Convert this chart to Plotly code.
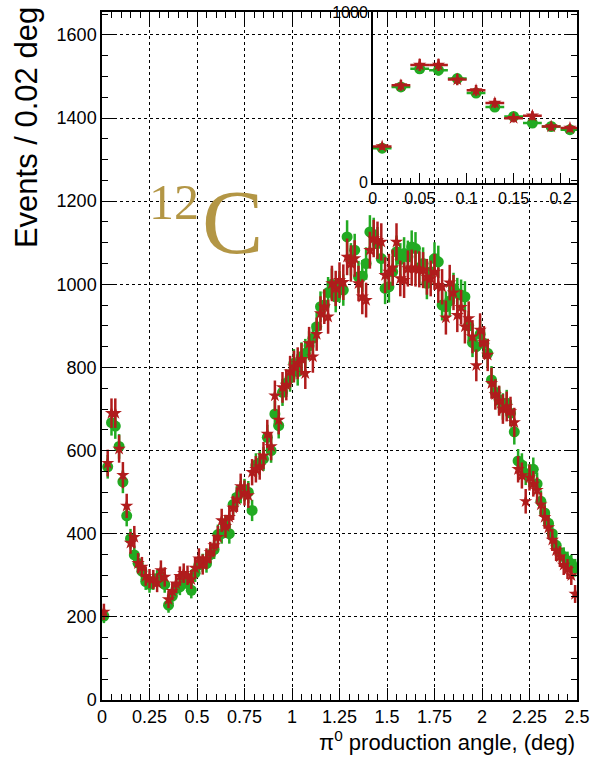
import numpy as np
import plotly.graph_objects as go

# Histogram binning: 0.02 deg bins from 0 to 2.5 deg
bin_width = 0.02
n_bins = 125
angle = [round(bin_width * (i + 0.5), 2) for i in range(n_bins)]

# Events per bin, green circles
counts_circle = [
    202, 561, 667, 659, 610, 525, 443, 388, 349, 329,
    310, 285, 278, 285, 292, 298, 278, 228, 250, 268,
    272, 290, 280, 264, 305, 325, 330, 328, 350, 362,
    398, 400, 420, 400, 470, 488, 500, 505, 500, 456,
    565, 570, 580, 632, 600, 688, 660, 740, 762, 775,
    810, 790, 826, 834, 852, 870, 898, 946, 950, 980,
    1000, 970, 994, 986, 1114, 1060, 1082, 1018, 1020, 1050,
    1126, 1120, 1098, 1062, 990, 994, 1030, 1078, 1060, 1074,
    1066, 1090, 1086, 1040, 1050, 1002, 1030, 1062, 1054, 950,
    946, 960, 990, 978, 974, 970, 900, 860, 850, 880,
    858, 834, 770, 740, 722, 706, 714, 690, 645, 575,
    565, 545, 540, 555, 520, 478, 450, 425, 400, 372,
    355, 345, 335, 328, 318,
]

# Events per bin, red stars
counts_star = [
    212, 570, 690, 690, 604, 541, 467, 378, 392, 329,
    320, 298, 292, 290, 282, 312, 296, 242, 262, 280,
    298, 305, 300, 290, 318, 340, 326, 340, 355, 372,
    392, 432, 418, 440, 462, 482, 514, 498, 492, 548,
    555, 562, 588, 640, 610, 732, 674, 752, 758, 790,
    802, 810, 820, 786, 858, 826, 880, 930, 946, 922,
    1002, 990, 1010, 1005, 1066, 1050, 1062, 1002, 970, 962,
    1082, 1110, 1106, 1102, 1022, 1030, 1040, 1102, 1014, 1010,
    1038, 1040, 1038, 1036, 1034, 1018, 1014, 1030, 998, 994,
    920, 1004, 980, 926, 945, 898, 918, 874, 805, 890,
    860, 830, 762, 735, 720, 700, 706, 694, 668, 555,
    540, 478, 535, 520, 505, 470, 440, 415, 385, 360,
    345, 325, 315, 300, 255,
]

# Zoomed view covers the first bins
n_zoom = 11

GREEN = "#22aa22"
RED = "#b01c1c"
FONT = "Liberation Sans"

x = np.array(angle)
yc = np.array(counts_circle, dtype=float)
ys = np.array(counts_star, dtype=float)
err_c = 1.2 * np.sqrt(yc)
err_s = 1.35 * np.sqrt(ys)


def series(xv, yv, ev, color, symbol, size, xa, ya):
    return go.Scatter(
        x=xv, y=yv, mode="markers", xaxis=xa, yaxis=ya,
        marker=dict(color=color, symbol=symbol, size=size, line=dict(width=0)),
        error_y=dict(type="data", array=ev, color=color, thickness=2.5, width=0),
        error_x=dict(type="constant", value=bin_width / 2, color=color,
                     thickness=2.5, width=0),
        hoverinfo="skip",
    )


fig = go.Figure()
fig.add_trace(series(x, yc, err_c, GREEN, "circle", 11, "x", "y"))
fig.add_trace(series(x, ys, err_s, RED, "star", 10, "x", "y"))
fig.add_trace(series(x[:n_zoom], yc[:n_zoom], err_c[:n_zoom], GREEN, "circle", 11, "x2", "y2"))
fig.add_trace(series(x[:n_zoom], ys[:n_zoom], err_s[:n_zoom], RED, "star", 10, "x2", "y2"))

main_x_ticks = [0, 0.25, 0.5, 0.75, 1, 1.25, 1.5, 1.75, 2, 2.25, 2.5]
main_x_text = ["0", "0.25", "0.5", "0.75", "1", "1.25", "1.5", "1.75", "2", "2.25", "2.5"]
main_y_ticks = [0, 200, 400, 600, 800, 1000, 1200, 1400, 1600]
zoom_x_ticks = [0, 0.05, 0.1, 0.15, 0.2]
zoom_x_text = ["0", "0.05", "0.1", "0.15", "0.2"]

axis_common = dict(
    showline=True, linecolor="black", linewidth=1.5, zeroline=False,
    ticks="inside", tickcolor="black", tickwidth=1.2, automargin=False,
)

fig.update_layout(
    width=593, height=765,
    margin=dict(l=102, r=16, t=12, b=65),
    paper_bgcolor="white", plot_bgcolor="rgba(0,0,0,0)",
    showlegend=False,
    xaxis=dict(
        **axis_common, domain=[0, 1], range=[0, 2.5], mirror="ticks",
        tickvals=main_x_ticks, ticktext=main_x_text, ticklen=12,
        tickfont=dict(family=FONT, size=18, color="black"),
        showgrid=True, gridcolor="black", griddash="dot", gridwidth=1,
        minor=dict(dtick=0.05, tick0=0, ticks="inside", ticklen=6,
                   tickcolor="black", showgrid=False),
    ),
    yaxis=dict(
        **axis_common, domain=[0, 1], range=[0, 1655], mirror="ticks",
        tickvals=main_y_ticks, ticklen=12,
        tickfont=dict(family=FONT, size=18, color="black"),
        showgrid=True, gridcolor="black", griddash="dot", gridwidth=1,
        minor=dict(dtick=50, tick0=0, ticks="inside", ticklen=6,
                   tickcolor="black", showgrid=False),
    ),
    xaxis2=dict(
        **axis_common, domain=[0.570, 1.0], anchor="y2", range=[0, 0.2175],
        tickvals=zoom_x_ticks, ticktext=zoom_x_text, ticklen=10,
        tickfont=dict(family=FONT, size=16, color="black"),
        showgrid=False,
        minor=dict(dtick=0.01, tick0=0, ticks="inside", ticklen=5,
                   tickcolor="black", showgrid=False),
    ),
    yaxis2=dict(
        **axis_common, domain=[0.752, 1.0], anchor="x2", range=[0, 1000],
        tickvals=[0, 1000], ticklen=10,
        tickfont=dict(family=FONT, size=16, color="black"),
        showgrid=False,
    ),
)

annotations = [
    # y-axis title, right-aligned to the top of the frame
    dict(text="Events / 0.02 deg", textangle=-90, xref="paper", yref="paper",
         x=-0.159, y=1.01, xanchor="center", yanchor="top", showarrow=False,
         font=dict(family=FONT, size=31, color="black")),
    # x-axis title, right-aligned to the frame
    dict(text="\u03c0<sup>0</sup> production angle, (deg)", xref="paper", yref="paper",
         x=1.0, y=-0.036, xanchor="right", yanchor="top", showarrow=False,
         font=dict(family=FONT, size=22, color="black")),
    # gold "12C" nucleus label
    dict(text="12", xref="paper", yref="paper",
         x=0.152, y=0.724, xanchor="center", yanchor="middle",
         showarrow=False, font=dict(family="Liberation Serif", size=50, color="#b39645")),
    dict(text="C", xref="paper", yref="paper",
         x=0.275, y=0.695, xanchor="center", yanchor="middle",
         showarrow=False, font=dict(family="Liberation Serif", size=92, color="#b39645")),
]

fig.update_layout(annotations=annotations)

fig.write_html("out.html")
